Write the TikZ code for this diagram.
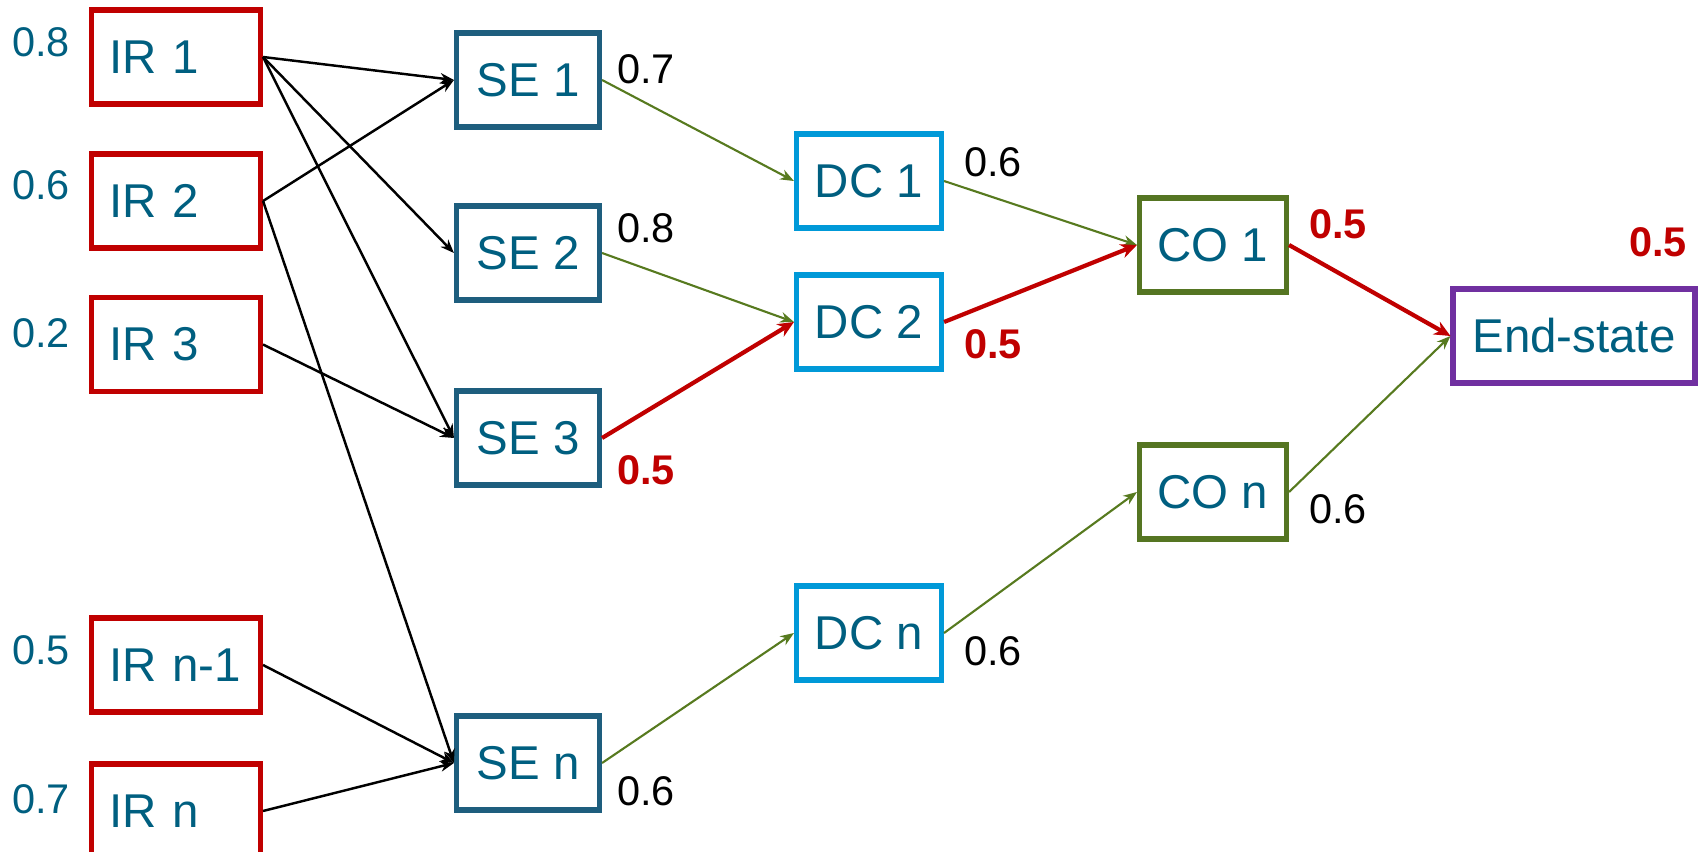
\documentclass[tikz,border=0pt]{standalone}
\usepackage{fontspec}
\setmainfont{Liberation Sans}
\usepackage{xcolor}
\usepackage{tikz}
\usetikzlibrary{arrows.meta}

\definecolor{irred}{HTML}{C00000}
\definecolor{nodeteal}{HTML}{005F80}
\definecolor{seblue}{HTML}{1E5E7E}
\definecolor{dcblue}{HTML}{0099D8}
\definecolor{coolive}{HTML}{557522}
\definecolor{endpurple}{HTML}{7030A0}
\definecolor{arrowgreen}{HTML}{577A1F}

\begin{document}
\begin{tikzpicture}[
    box/.style={draw, line width=1.45pt, minimum height=0.94cm, inner sep=0pt,
        text=nodeteal, font=\fontsize{13.5}{16}\selectfont},
    irbox/.style={box, draw=irred, text width=1.34cm, align=left, inner xsep=0.175cm},
    sebox/.style={box, draw=seblue, minimum width=1.43cm},
    dcbox/.style={box, draw=dcblue, minimum width=1.45cm},
    cobox/.style={box, draw=coolive, minimum width=1.47cm},
    endbox/.style={box, draw=endpurple, minimum width=2.42cm},
    prob/.style={inner sep=0pt, font=\fontsize{11.8}{14}\selectfont},
    inprob/.style={prob, text=nodeteal},
    hiprob/.style={prob, text=irred, font=\fontsize{11.8}{14}\selectfont\bfseries},
    blk/.style={-{Stealth[length=3.9pt, width=3pt]}, line width=0.7pt, black},
    grn/.style={-{Stealth[length=3.9pt, width=3pt]}, line width=0.6pt, arrowgreen},
    hot/.style={-{Stealth[length=4.6pt, width=4.1pt]}, line width=1.2pt, irred}
]
    \useasboundingbox (0,0) rectangle (17.06,8.51);

    % Inputs
    \node[irbox] (ir1) at (1.76,7.94) {\mbox{IR 1}};
    \node[irbox] (ir2) at (1.76,6.50) {\mbox{IR 2}};
    \node[irbox] (ir3) at (1.76,5.065) {\mbox{IR 3}};
    \node[irbox] (irm) at (1.76,1.86) {\mbox{IR n-1}};
    \node[irbox] (irn) at (1.76,0.40) {\mbox{IR n}};

    % Second column
    \node[sebox] (se1) at (5.28,7.71) {SE 1};
    \node[sebox] (se2) at (5.28,5.98) {SE 2};
    \node[sebox] (se3) at (5.28,4.13) {SE 3};
    \node[sebox] (sen) at (5.28,0.88) {SE n};

    % Third column
    \node[dcbox] (dc1) at (8.69,6.70) {DC 1};
    \node[dcbox] (dc2) at (8.69,5.29) {DC 2};
    \node[dcbox] (dcn) at (8.69,2.18) {DC n};

    % Fourth column
    \node[cobox] (co1) at (12.13,6.06) {CO 1};
    \node[cobox] (con) at (12.13,3.59) {CO n};

    % Result
    \node[endbox] (end) at (15.74,5.15) {End-state};

    % Values
    \node[inprob] (p-ir1) at (0.41,8.09) {0.8};
    \node[inprob] (p-ir2) at (0.41,6.66) {0.6};
    \node[inprob] (p-ir3) at (0.41,5.18) {0.2};
    \node[inprob] (p-irm) at (0.41,2.01) {0.5};
    \node[inprob] (p-irn) at (0.41,0.52) {0.7};
    \node[prob] (p-se1) at (6.46,7.82) {0.7};
    \node[prob] (p-se2) at (6.46,6.23) {0.8};
    \node[hiprob] (p-se3) at (6.46,3.81) {0.5};
    \node[prob] (p-sen) at (6.46,0.60) {0.6};
    \node[prob] (p-dc1) at (9.93,6.89) {0.6};
    \node[hiprob] (p-dc2) at (9.93,5.07) {0.5};
    \node[prob] (p-dcn) at (9.93,2.00) {0.6};
    \node[hiprob] (p-co1) at (13.38,6.27) {0.5};
    \node[prob] (p-con) at (13.38,3.42) {0.6};
    \node[hiprob] (p-end) at (16.58,6.09) {0.5};

    % Connections
    \draw[blk] (ir1.east) -- (se1.west);
    \draw[blk] (ir1.east) -- (se2.west);
    \draw[blk] (ir1.east) -- (se3.west);
    \draw[blk] (ir2.east) -- (se1.west);
    \draw[blk] (ir2.east) -- (sen.west);
    \draw[blk] (ir3.east) -- (se3.west);
    \draw[blk] (irm.east) -- (sen.west);
    \draw[blk] (irn.east) -- (sen.west);

    \draw[grn] (se1.east) -- (dc1.west);
    \draw[grn] (se2.east) -- (dc2.west);
    \draw[grn] (sen.east) -- (dcn.west);
    \draw[grn] (dc1.east) -- (co1.west);
    \draw[grn] (dcn.east) -- (con.west);
    \draw[grn] (con.east) -- (end.west);

    % Weakest path
    \draw[hot] (se3.east) -- (dc2.west);
    \draw[hot] (dc2.east) -- (co1.west);
    \draw[hot] (co1.east) -- (end.west);
\end{tikzpicture}
\end{document}
